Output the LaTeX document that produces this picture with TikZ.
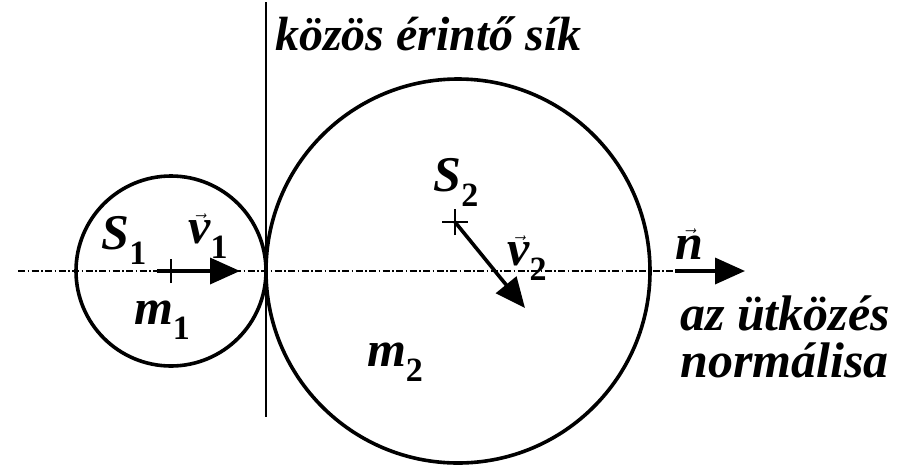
\documentclass[tikz,border=0pt]{standalone}
\usepackage{fontspec}
\setmainfont{Liberation Serif}
\usetikzlibrary{arrows.meta}
\newcommand{\sbx}[1]{\raisebox{-0.3em}{\fontsize{34}{34}\selectfont\bfseries\upshape #1}}
\newcommand{\vx}[1]{$\vec{\hbox{\bfseries\itshape #1}}$}
\tikzset{
  body/.style={line width=3.6pt},
  plane/.style={line width=1.8pt},
  axis/.style={line width=1.4pt, dash pattern=on 7pt off 2.5pt on 1.5pt off 2.5pt},
  vel/.style={line width=3.6pt, -{Triangle[length=30pt,width=26pt]}},
  cross/.style={line width=2pt},
  lab/.style={inner sep=0, font=\fontsize{50}{50}\selectfont\bfseries\itshape},
  txt/.style={inner sep=0, font=\fontsize{48}{48}\selectfont\bfseries\itshape},
  txtb/.style={inner sep=0, font=\fontsize{50}{50}\selectfont\bfseries\itshape}
}
\begin{document}
\begin{tikzpicture}[x=1pt,y=-1pt]
\useasboundingbox[fill=white] (0,0) rectangle (900,464);
\coordinate (C1) at (171,271);
\coordinate (C2) at (458,271);
\coordinate (S2c) at (455,222);
\coordinate (axL) at (18,271);
\coordinate (axR) at (673,271);
\coordinate (plT) at (266,2);
\coordinate (plB) at (266,417);
\coordinate (v1s) at (157,271);
\coordinate (v1e) at (240,271);
\coordinate (v2e) at (525,308);
\coordinate (ns) at (675,271);
\coordinate (ne) at (745,271);
% axis
\draw[axis] (axL) -- (axR);
% plane
\draw[plane] (plT) -- (plB);
% bodies
\draw[body] (C1) circle[radius=95];
\draw[body] (C2) circle[radius=192];
% centre marks
\draw[cross] ([yshift=-12pt]C1) -- ([yshift=12pt]C1);
\draw[cross] ([xshift=-12pt]C1) -- (C1);
\draw[cross] ([xshift=-13pt]S2c) -- ([xshift=13pt]S2c);
\draw[cross] ([yshift=-13pt]S2c) -- ([yshift=13pt]S2c);
% velocities
\draw[vel] (v1s) -- (v1e);
\draw[vel] (S2c) -- (v2e);
\draw[vel] (ns) -- (ne);
% labels
\node[lab] (lS1) at (124,240) {S\sbx{1}};
\node[lab] (lv1) at (208,236) {\vx{v}\sbx{1}};
\node[lab] (lm1) at (162,320) {m\sbx{1}};
\node[lab] (lS2) at (456,182) {S\sbx{2}};
\node[lab] (lv2) at (527,258) {\vx{v}\sbx{2}};
\node[lab] (lm2) at (395,362) {m\sbx{2}};
\node[lab] (ln) at (689,244) {\vx{n}};
\node[txt, anchor=base west] (title) at (275,50) {közös érintő sík};
\node[txtb, anchor=base west] (nl1) at (680,330) {az ütközés};
\node[txtb, anchor=base west] (nl2) at (680,377) {normálisa};
\end{tikzpicture}
\end{document}
